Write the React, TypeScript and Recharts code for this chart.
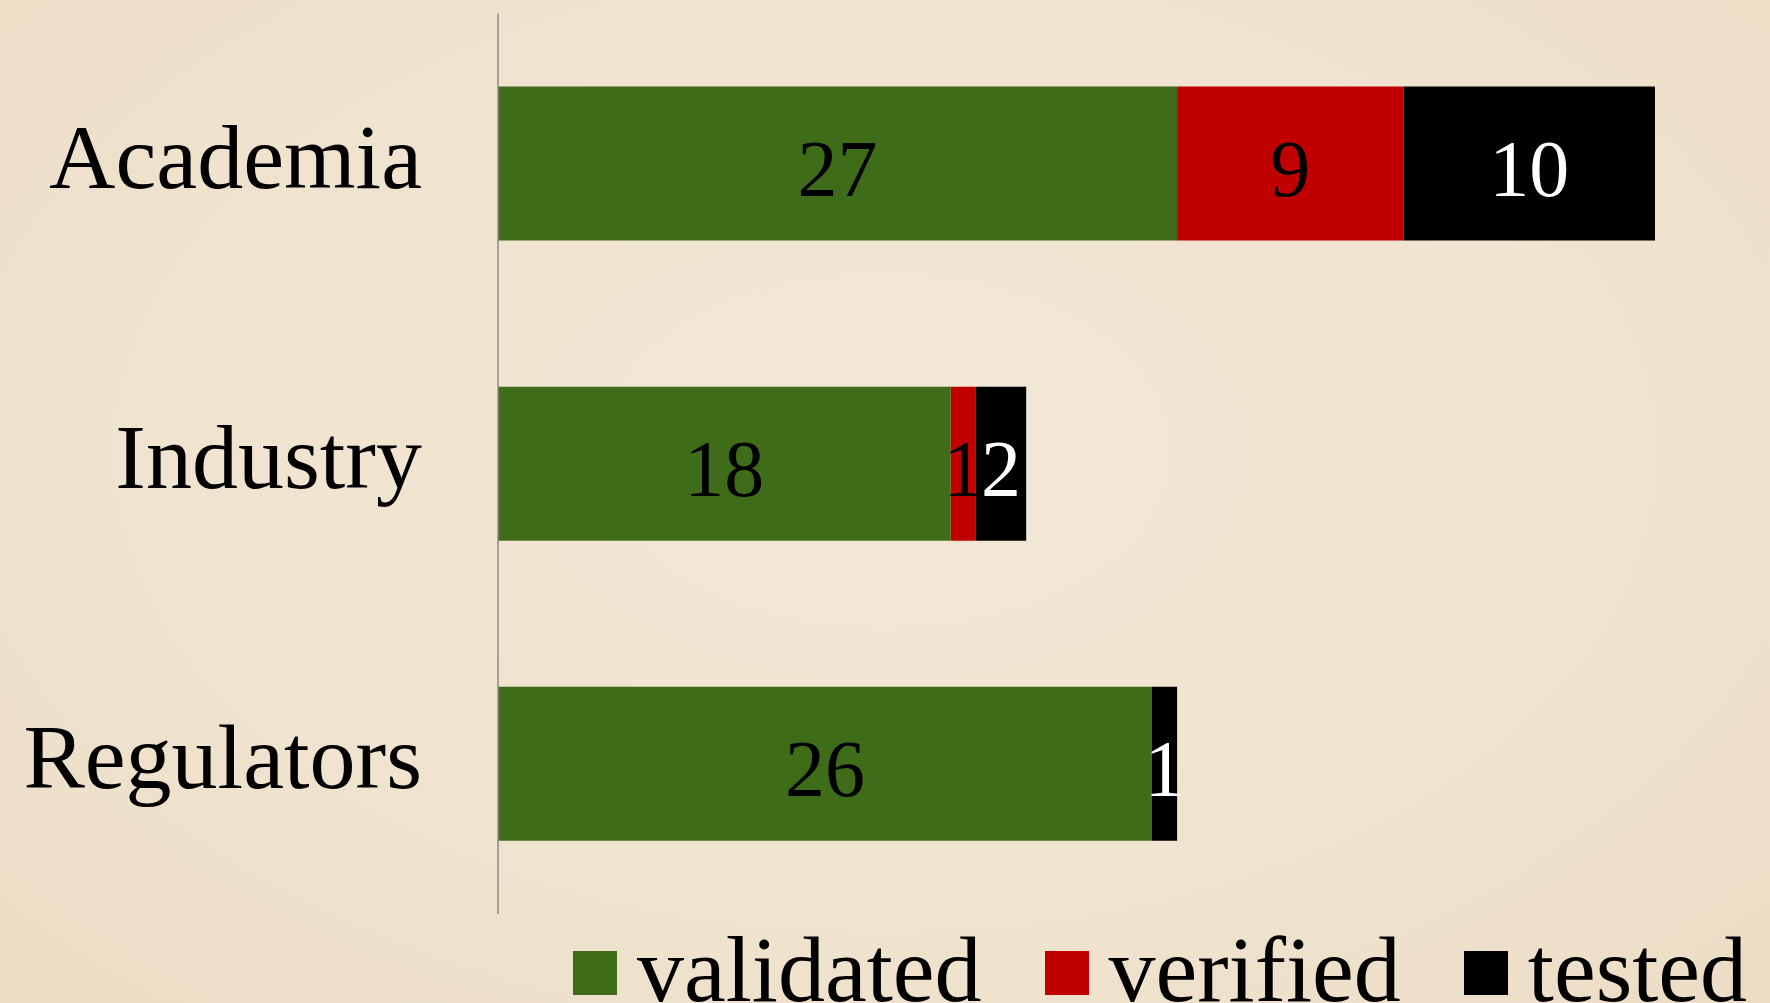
import { BarChart, Bar, XAxis, YAxis, LabelList } from 'recharts'

// chart values
const groups = ['Academia', 'Industry', 'Regulators']
const validated = [27, 18, 26]
const verified = [9, 1, 0]
const tested = [10, 2, 1]

const seriesNames = ['validated', 'verified', 'tested']
const seriesColors = ['#3e6c18', '#c00000', '#000000']
const labelColors = ['#000000', '#000000', '#ffffff']

const rows = groups.map((name, i) => ({
  name,
  validated: validated[i],
  verified: verified[i],
  tested: tested[i],
}))

const FONT = '"Liberation Serif", "DejaVu Serif", serif'

// centred value label, skipped when the segment is empty
const makeLabel = (color: string) => (props: any) => {
  const { x, y, width, height, value } = props
  if (!value) return null
  return (
    <text
      x={Number(x) + Number(width) / 2}
      y={Number(y) + Number(height) / 2 + 5}
      textAnchor="middle"
      dominantBaseline="central"
      fill={color}
      fontFamily={FONT}
      fontSize={80}
    >
      {value}
    </text>
  )
}

const CategoryTick = (props: any) => {
  const { x, y, payload } = props
  return (
    <text x={x} y={y - 7} textAnchor="end" dominantBaseline="central" fill="#000" fontFamily={FONT} fontSize={92}>
      {payload.value}
    </text>
  )
}

function LegendRow() {
  return (
    <div
      style={{
        position: 'absolute',
        left: 573,
        top: 922,
        display: 'flex',
        alignItems: 'flex-start',
        fontFamily: FONT,
        fontSize: 94,
        lineHeight: '94px',
        whiteSpace: 'nowrap',
      }}
    >
      {seriesNames.map((s, i) => (
        <div key={s} style={{ display: 'flex', alignItems: 'flex-start', marginRight: i < 2 ? 63 : 0 }}>
          <div style={{ width: 44, height: 44, marginTop: 29, marginRight: 20, background: seriesColors[i] }} />
          <span style={{ color: '#000' }}>{s}</span>
        </div>
      ))}
    </div>
  )
}

export default function App() {
  return (
    <div
      style={{
        position: 'absolute',
        left: 0,
        top: 0,
        width: 1770,
        height: 1003,
        overflow: 'hidden',
        background: 'radial-gradient(ellipse at 50% 45%, #f3e8d7 0%, #efe2cd 70%, #ebdcc5 100%)',
      }}
    >
      <BarChart
        width={1770}
        height={1003}
        data={rows}
        layout="vertical"
        margin={{ top: 13.5, right: 115, bottom: 89, left: 0 }}
        barSize={154}
      >
        <XAxis type="number" hide domain={[0, 46]} />
        <YAxis
          type="category"
          dataKey="name"
          width={498}
          tickLine={false}
          tickSize={0}
          tickMargin={76}
          axisLine={{ stroke: '#8a8a8a', strokeWidth: 1.5 }}
          tick={<CategoryTick />}
        />
        {seriesNames.map((s, i) => (
          <Bar key={s} dataKey={s} stackId="a" fill={seriesColors[i]} isAnimationActive={false}>
            <LabelList dataKey={s} content={makeLabel(labelColors[i])} />
          </Bar>
        ))}
      </BarChart>
      <LegendRow />
    </div>
  )
}
